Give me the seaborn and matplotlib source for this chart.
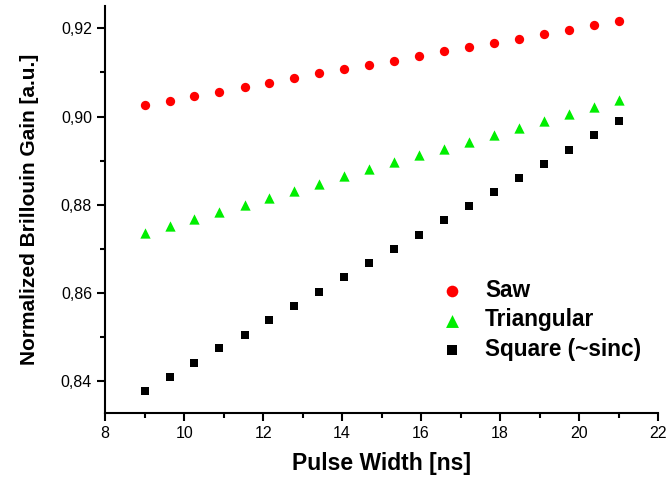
import numpy as np
import pandas as pd
import matplotlib
matplotlib.use("Agg")
import matplotlib.pyplot as plt
import seaborn as sns
from matplotlib.ticker import FuncFormatter, MultipleLocator

pulse_width = [9.0, 9.63, 10.26, 10.89, 11.53, 12.16, 12.79, 13.42, 14.05, 14.68,
               15.32, 15.95, 16.58, 17.21, 17.84, 18.47, 19.11, 19.74, 20.37, 21.0]
saw = [0.9026, 0.9036, 0.9046, 0.9056, 0.9067, 0.9077, 0.9087, 0.9098, 0.9107, 0.9117,
       0.9127, 0.9137, 0.9148, 0.9157, 0.9167, 0.9177, 0.9188, 0.9197, 0.9207, 0.9217]
triangular = [0.8736, 0.8752, 0.8768, 0.8783, 0.8800, 0.8815, 0.8832, 0.8847, 0.8864, 0.8880,
              0.8896, 0.8912, 0.8927, 0.8943, 0.8959, 0.8974, 0.8991, 0.9006, 0.9022, 0.9037]
square = [0.8377, 0.8409, 0.8441, 0.8474, 0.8505, 0.8538, 0.8570, 0.8602, 0.8635, 0.8667,
          0.8700, 0.8732, 0.8764, 0.8796, 0.8829, 0.8861, 0.8893, 0.8925, 0.8958, 0.8989]
series_names = ["Saw", "Triangular", "Square (~sinc)"]

df = pd.DataFrame({
    "x": pulse_width * 3,
    "y": saw + triangular + square,
    "series": [series_names[0]] * len(saw) + [series_names[1]] * len(triangular) + [series_names[2]] * len(square),
})

sns.set_style("ticks")
plt.rcParams['font.family'] = ['Liberation Sans', 'DejaVu Sans']
plt.rcParams['text.color'] = 'black'
plt.rcParams['axes.labelcolor'] = 'black'
plt.rcParams['xtick.color'] = 'black'
plt.rcParams['ytick.color'] = 'black'

fig = plt.figure(figsize=(6.66, 4.82), dpi=100)
ax = fig.add_axes([0.158, 0.1432, 0.830, 0.8444])

palette = {"Saw": "#ff0000", "Triangular": "#00ee00", "Square (~sinc)": "#000000"}
markers = {"Saw": "o", "Triangular": "^", "Square (~sinc)": "s"}
sizes = {"Saw": 45, "Triangular": 55, "Square (~sinc)": 34}

for name in series_names:
    sub = df[df["series"] == name]
    sns.scatterplot(data=sub, x="x", y="y", color=palette[name], marker=markers[name],
                    s=sizes[name], linewidth=0, ax=ax, label=name)

ax.set_xlim(8, 22)
ax.set_ylim(0.8327, 0.9251)
ax.xaxis.set_major_locator(MultipleLocator(2))
ax.xaxis.set_minor_locator(MultipleLocator(1))
ax.yaxis.set_major_locator(MultipleLocator(0.02))
ax.yaxis.set_minor_locator(MultipleLocator(0.01))
ax.yaxis.set_major_formatter(FuncFormatter(lambda v, p: f"{v:.2f}".replace(".", ",")))
ax.xaxis.set_major_formatter(FuncFormatter(lambda v, p: f"{v:.0f}"))

for s in ["top", "right"]:
    ax.spines[s].set_visible(False)
for s in ["left", "bottom"]:
    ax.spines[s].set_linewidth(1.5)
    ax.spines[s].set_color("black")
ax.tick_params(which="major", direction="out", length=6, width=1.5, labelsize=11.5,
               colors="black", labelcolor="black")
ax.tick_params(which="minor", direction="out", length=3.5, width=1.5, colors="black")

ax.set_xlabel("Pulse Width [ns]", fontsize=16.5, fontweight="bold", labelpad=8, color="black")
ax.set_ylabel("Normalized Brillouin Gain [a.u.]", fontsize=15, fontweight="bold", labelpad=16, color="black")

leg = ax.legend(loc="upper left", bbox_to_anchor=(0.607, 0.33), frameon=False,
                handlelength=1.0, handletextpad=0.95, labelspacing=0.3,
                borderaxespad=0, borderpad=0, markerscale=1.25,
                prop={"weight": "bold", "size": 16.3})
for t in leg.get_texts():
    t.set_color("black")

fig.savefig("out.png", dpi=100)
